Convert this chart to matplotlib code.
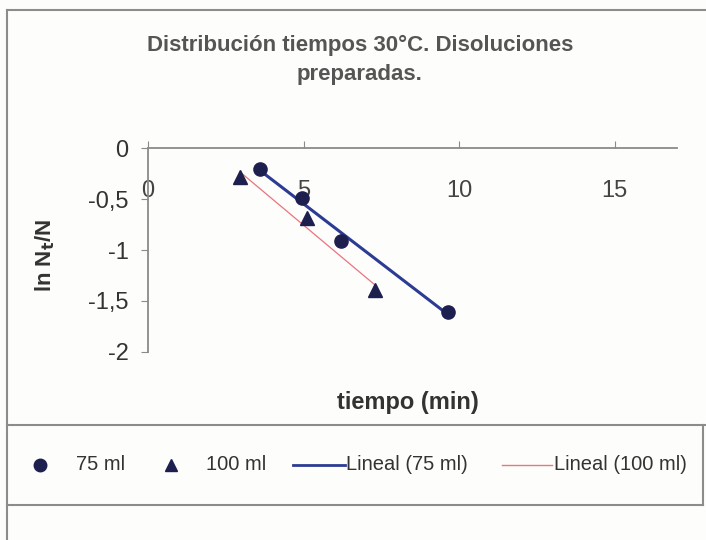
import matplotlib.pyplot as plt
import numpy as np
from matplotlib.lines import Line2D
from matplotlib.ticker import FuncFormatter

plt.rcParams['font.family'] = ['Liberation Sans', 'DejaVu Sans']

# datos
t_75 = [3.6, 4.95, 6.2, 9.65]
ln_75 = [-0.21, -0.49, -0.91, -1.61]
t_100 = [2.95, 5.1, 7.3]
ln_100 = [-0.28, -0.69, -1.39]

xticks = [0, 5, 10, 15]
yticks = [0, -0.5, -1, -1.5, -2]
labels = ['75 ml', '100 ml', 'Lineal (75 ml)', 'Lineal (100 ml)']

W, H = 706, 540
fig = plt.figure(figsize=(W / 100, H / 100), dpi=100)
fig.patch.set_facecolor('#fdfdfb')

def fx(px):
    return px / W

def fy(py):
    return 1 - py / H

ax = fig.add_axes([fx(148), fy(352), fx(677) - fx(148), fy(148) - fy(352)])
ax.set_facecolor('none')

navy = '#1d1f4f'
blue = '#2c3b93'
pink = '#ea7480'

# lineas de tendencia (ajuste lineal)
for t, v, c, lw in [(t_75, ln_75, blue, 2.2), (t_100, ln_100, pink, 0.9)]:
    m, b = np.polyfit(t, v, 1)
    xs = np.array([min(t), max(t)])
    ax.plot(xs, m * xs + b, color=c, lw=lw, zorder=2)

ax.plot(t_75, ln_75, 'o', color=navy, ms=9.5, zorder=3)
ax.plot(t_100, ln_100, '^', color=navy, ms=10.5, zorder=3)

ax.set_xlim(0, 17)
ax.set_ylim(-2, 0)
ax.set_xticks(xticks)
ax.set_yticks(yticks)

fmt = FuncFormatter(lambda v, p: ('%g' % v).replace('.', ','))
ax.xaxis.set_major_formatter(fmt)
ax.yaxis.set_major_formatter(fmt)

ax.spines['top'].set_visible(False)
ax.spines['right'].set_visible(False)
ax.spines['bottom'].set_position(('data', 0))
for s in ['bottom', 'left']:
    ax.spines[s].set_color('#8a8a8a')
    ax.spines[s].set_linewidth(1.3)

ax.tick_params(axis='x', direction='in', length=5, color='#8a8a8a', pad=23,
               labelsize=17, labelcolor='#444444')
ax.tick_params(axis='y', direction='out', length=5, color='#8a8a8a', pad=9,
               labelsize=17, labelcolor='#333333')

fig.text(fx(45), fy(255), r'ln N$_\mathbf{t}$/N', rotation=90, ha='center', va='center',
         fontsize=16, fontweight='bold', color='#333333')
fig.text(fx(408), fy(403), 'tiempo (min)', ha='center', va='center',
         fontsize=17, fontweight='bold', color='#333333')
fig.text(fx(360), fy(60), 'Distribución tiempos 30°C. Disoluciones\npreparadas.',
         ha='center', va='center', fontsize=16, fontweight='bold', color='#555555',
         linespacing=1.45)

# marcos del area del grafico y de la leyenda
frame = '#8c8c8c'
fig.add_artist(Line2D([fx(7), fx(7)], [fy(10), 0], color=frame, lw=1.5))
fig.add_artist(Line2D([fx(7), 1], [fy(10), fy(10)], color=frame, lw=1.5))
fig.add_artist(Line2D([fx(7), 1], [fy(425), fy(425)], color=frame, lw=1.5))
fig.add_artist(Line2D([fx(703), fx(703)], [fy(425), fy(505)], color=frame, lw=1.5))
fig.add_artist(Line2D([fx(7), fx(703)], [fy(505), fy(505)], color=frame, lw=1.5))

# leyenda colocada a mano
ly = fy(465)
fig.add_artist(Line2D([fx(40)], [ly], ls='none', marker='o', color=navy, ms=9))
fig.add_artist(Line2D([fx(171)], [ly], ls='none', marker='^', color=navy, ms=9))
fig.add_artist(Line2D([fx(293), fx(345)], [ly, ly], color=blue, lw=2))
fig.add_artist(Line2D([fx(502), fx(552)], [ly, ly], color=pink, lw=1))
for x0, lab in zip([76, 206, 346, 554], labels):
    fig.text(fx(x0), ly, lab, ha='left', va='center', fontsize=14.5, color='#333333')

fig.savefig('out.png', dpi=100, facecolor=fig.get_facecolor())
